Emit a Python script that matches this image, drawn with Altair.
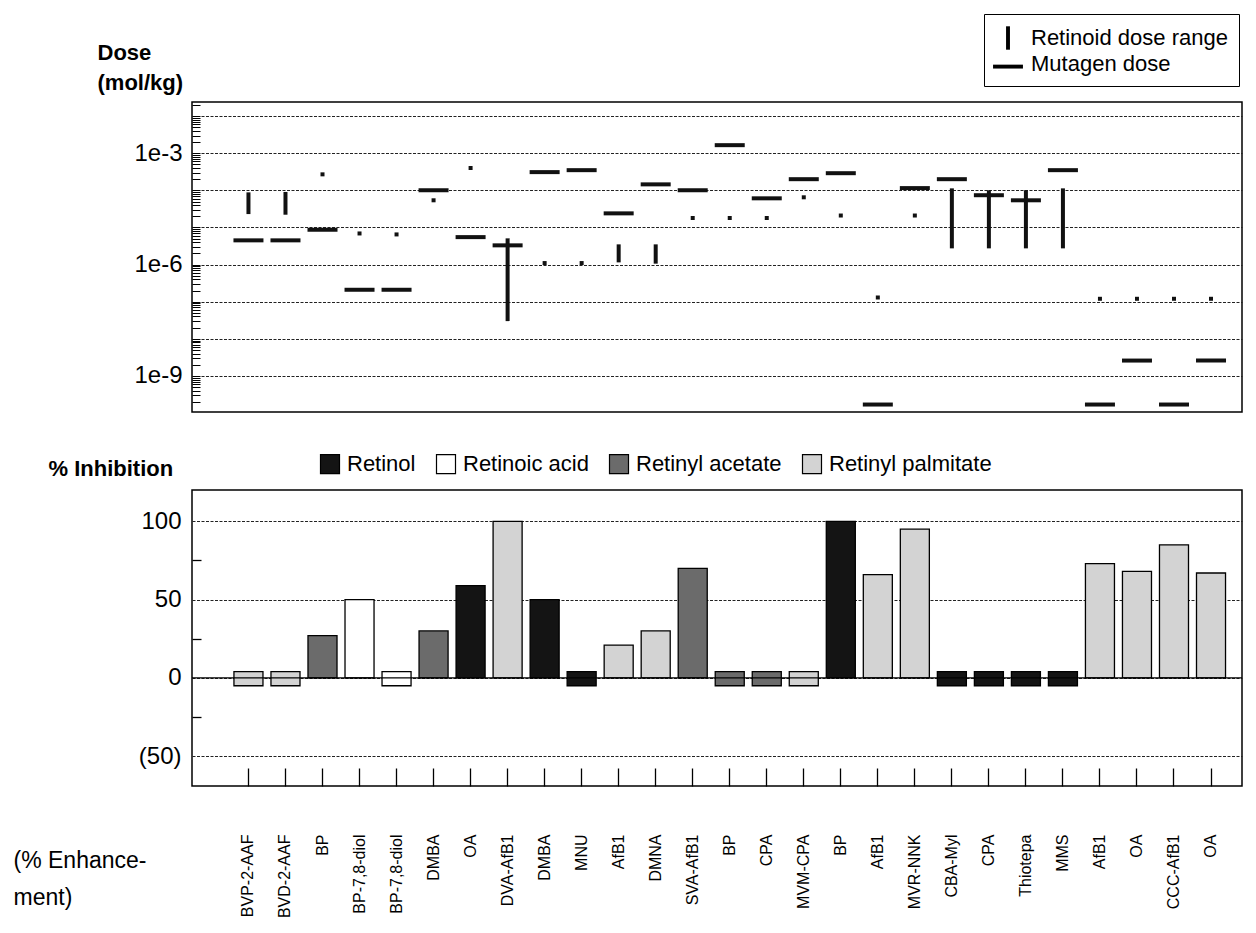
import altair as alt
import pandas as pd

# ---------------- data ----------------
names = ["BVP-2-AAF", "BVD-2-AAF", "BP", "BP-7,8-diol", "BP-7,8-diol", "DMBA", "OA",
         "DVA-AfB1", "DMBA", "MNU", "AfB1", "DMNA", "SVA-AfB1", "BP", "CPA", "MVM-CPA",
         "BP", "AfB1", "MVR-NNK", "CBA-Myl", "CPA", "Thiotepa", "MMS", "AfB1", "OA",
         "CCC-AfB1", "OA"]
retinoid = ["Retinyl palmitate", "Retinyl palmitate", "Retinyl acetate", "Retinoic acid",
            "Retinoic acid", "Retinyl acetate", "Retinol", "Retinyl palmitate", "Retinol",
            "Retinol", "Retinyl palmitate", "Retinyl palmitate", "Retinyl acetate",
            "Retinyl acetate", "Retinyl acetate", "Retinyl palmitate", "Retinol",
            "Retinyl palmitate", "Retinyl palmitate", "Retinol", "Retinol", "Retinol",
            "Retinol", "Retinyl palmitate", "Retinyl palmitate", "Retinyl palmitate",
            "Retinyl palmitate"]
inhib_low = [-5, -5, 0, 0, -5, 0, 0, 0, 0, -5, 0, 0, 0, -5, -5, -5, 0, 0, 0, -5, -5, -5, -5,
             0, 0, 0, 0]
inhib_high = [4, 4, 27, 50, 4, 30, 59, 100, 50, 4, 21, 30, 70, 4, 4, 4, 100, 66, 95, 4, 4, 4,
              4, 73, 68, 85, 67]
retinoid_dose_low = [2.6e-5, 2.5e-5, 2.7e-4, 6.9e-6, 6.5e-6, 5.4e-5, 4.0e-4, 3.4e-8, 1.1e-6,
                     1.1e-6, 1.3e-6, 1.2e-6, 1.8e-5, 1.8e-5, 1.8e-5, 6.5e-5, 2.1e-5, 1.3e-7,
                     2.1e-5, 3.1e-6, 3.1e-6, 3.1e-6, 3.1e-6, 1.2e-7, 1.2e-7, 1.2e-7, 1.2e-7]
retinoid_dose_high = [7.8e-5, 8.0e-5, 2.7e-4, 6.9e-6, 6.5e-6, 5.4e-5, 4.0e-4, 4.5e-6, 1.1e-6,
                      1.1e-6, 3.1e-6, 3.1e-6, 1.8e-5, 1.8e-5, 1.8e-5, 6.5e-5, 2.1e-5, 1.3e-7,
                      2.1e-5, 1.0e-4, 8.9e-5, 8.9e-5, 1.0e-4, 1.2e-7, 1.2e-7, 1.2e-7, 1.2e-7]
mutagen_dose = [4.5e-6, 4.5e-6, 8.7e-6, 2.1e-7, 2.1e-7, 1.0e-4, 5.5e-6, 3.3e-6, 3.1e-4,
                3.5e-4, 2.4e-5, 1.45e-4, 1.0e-4, 1.65e-3, 6.1e-5, 2.0e-4, 2.9e-4, 1.7e-10,
                1.15e-4, 2.0e-4, 7.4e-5, 5.4e-5, 3.5e-4, 1.7e-10, 2.6e-9, 1.7e-10, 2.6e-9]

retinoid_types = ["Retinol", "Retinoic acid", "Retinyl acetate", "Retinyl palmitate"]
retinoid_colors = ["#141414", "#ffffff", "#6b6b6b", "#d3d3d3"]
dose_entries = ["Retinoid dose range", "Mutagen dose"]
dose_paths = ["M-0.15,-0.9H0.15V0.9H-0.15Z", "M-1.15,0.05H1.15V0.35H-1.15Z"]

keys = [f"{i:02d}|{n}" for i, n in enumerate(names)]
df = pd.DataFrame({
    "key": keys, "type": retinoid, "lo": inhib_low, "hi": inhib_high,
    "rlo": retinoid_dose_low, "rhi": retinoid_dose_high, "mut": mutagen_dose,
})

FONT = "Liberation Sans"
W = 1050
GRID = dict(gridColor="#222222", gridDash=[3, 1.5], gridWidth=1)

xscale = alt.Scale(domain=keys, paddingInner=0.216, paddingOuter=0.789, align=0.718)

# ---------------- top panel: doses ----------------
decades = [10.0 ** e for e in range(-2, -10, -1)]
minor = [m * 10.0 ** e for e in range(-10, -1) for m in range(1, 10)
         if 1.07e-10 <= m * 10.0 ** e <= 0.024]
yscale_top = alt.Scale(type="log", domain=[1.07e-10, 0.024], nice=False)

ret_rule = alt.Chart(df).mark_rule(strokeWidth=4, strokeCap="square", color="#111111").encode(
    x=alt.X("key:N", scale=xscale, axis=None),
    y=alt.Y("rlo:Q", scale=yscale_top, axis=alt.Axis(
        orient="left", values=decades, ticks=False, domain=False, grid=True, **GRID,
        labelExpr="indexof([-3,-6,-9], round(log(datum.value)/LN10)) >= 0 ? '1e' + round(log(datum.value)/LN10) : ''",
        labelFontSize=24, labelPadding=10, labelColor="black",
        title=["Dose", "(mol/kg)"], titleAngle=0, titleAlign="left", titleBaseline="top",
        titleX=-95, titleY=-60, titleFontSize=22, titleFontWeight="bold", titleLineHeight=30,
        titleColor="black")),
    y2="rhi:Q",
)
mut_tick = alt.Chart(df).mark_tick(size=30, thickness=4, color="#111111", opacity=1).encode(
    x=alt.X("key:N", scale=xscale, axis=None),
    y=alt.Y("mut:Q", scale=yscale_top, axis=alt.Axis(
        orient="left", values=minor, offset=-8, tickSize=8, ticks=True, tickColor="black",
        tickWidth=1, labels=False, domain=False, grid=False, title=None)),
)
leg_pts = alt.Chart(pd.DataFrame({"entry": dose_entries})).mark_point(
    filled=True, opacity=0, color="black").encode(
    shape=alt.Shape("entry:N", scale=alt.Scale(domain=dose_entries, range=dose_paths),
                    legend=alt.Legend(title=None, orient="none", legendX=792, legendY=-88,
                                      direction="vertical", strokeColor="black",
                                      fillColor="white", padding=11, labelFontSize=22,
                                      labelColor="black", labelLimit=400, symbolSize=676,
                                      symbolFillColor="black", symbolStrokeWidth=0,
                                      symbolOpacity=1, rowPadding=1, labelOffset=10)),
)
top = alt.layer(ret_rule, mut_tick, leg_pts).resolve_axis(y="independent").properties(
    width=W, height=310)

# ---------------- bottom panel: % inhibition ----------------
yscale_bot = alt.Scale(domain=[-69, 120], nice=False, zero=False)

bars = alt.Chart(df).mark_bar(stroke="black", strokeWidth=1.3).encode(
    x=alt.X("key:N", scale=xscale, axis=alt.Axis(
        labelExpr="split(datum.label, '|')[1]", labelAngle=270, labelFontSize=16,
        labelPadding=48, labelColor="black", labelOverlap=False,
        offset=-18, tickSize=18, ticks=True, tickColor="black", tickWidth=1.3,
        domain=False, grid=False,
        title=["(% Enhance-", "ment)"], titleAngle=0, titleAlign="left",
        titleBaseline="top", titleX=-179, titleY=81, titleFontSize=23,
        titleFontWeight="normal", titleLineHeight=37, titleColor="black")),
    y=alt.Y("lo:Q", scale=yscale_bot, axis=alt.Axis(
        orient="left", values=[100, 50, 0, -50], ticks=False, domain=False, grid=True, **GRID,
        labelExpr="datum.value < 0 ? '(' + abs(datum.value) + ')' : datum.label",
        labelFontSize=24, labelPadding=11, labelColor="black",
        title="% Inhibition", titleAngle=0, titleAlign="left", titleBaseline="middle",
        titleX=-144, titleY=-22, titleFontSize=22, titleFontWeight="bold",
        titleColor="black")),
    y2="hi:Q",
    fill=alt.Fill("type:N", scale=alt.Scale(domain=retinoid_types, range=retinoid_colors),
                  legend=alt.Legend(title=None, orient="none", direction="horizontal",
                                    columns=4, legendX=127, legendY=-37, symbolType="square",
                                    symbolSize=361, symbolStrokeColor="black",
                                    symbolStrokeWidth=1.2, labelFontSize=22, labelLimit=400,
                                    labelColor="black", columnPadding=18, labelOffset=6,
                                    padding=0)),
)
zero_rule = alt.Chart(pd.DataFrame({"v": [0]})).mark_rule(color="black", strokeWidth=1.3).encode(
    y=alt.Y("v:Q", scale=yscale_bot, axis=alt.Axis(
        orient="left", values=[75, 25, -25], offset=-9, tickSize=9, ticks=True,
        tickColor="black", tickWidth=1.3, labels=False, domain=False, grid=False, title=None)),
)
bottom = alt.layer(bars, zero_rule).resolve_axis(y="independent").properties(
    width=W, height=296)

chart = alt.vconcat(top, bottom, spacing=78, bounds="flush").resolve_scale(
    x="independent", shape="independent", fill="independent"
).resolve_legend(shape="independent", fill="independent").properties(
    padding={"left": 4, "top": 4, "right": 0, "bottom": 0}
).configure(font=FONT).configure_view(stroke="black", strokeWidth=1.5)

chart.save("out.html", embed_options={"renderer": "svg", "actions": False})
